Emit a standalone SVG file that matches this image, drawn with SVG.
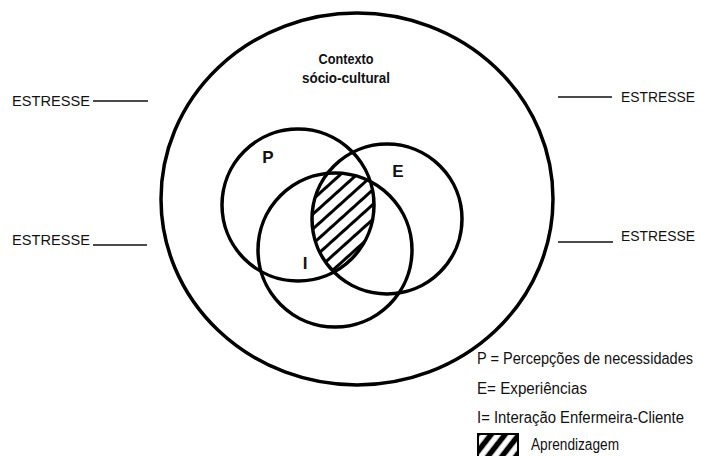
<svg xmlns="http://www.w3.org/2000/svg" width="702" height="456" viewBox="0 0 702 456">
  <style>
    .ring { fill: none; stroke: #000; stroke-width: 3.5; }
    .lbl { font-family: "Liberation Sans", Arial, sans-serif; font-size: 15.5px; fill: #111; }
    .leg { font-family: "Liberation Sans", Arial, sans-serif; font-size: 16px; fill: #111; }
    .bold { font-family: "Liberation Sans", Arial, sans-serif; font-weight: bold; fill: #111; }
    .tick { stroke: #111; stroke-width: 1.3; fill: none; }
  </style>
  <defs>
    <pattern id="hatch" patternUnits="userSpaceOnUse" width="11" height="11" patternTransform="rotate(-42)">
      <line x1="0" y1="5.5" x2="11" y2="5.5" stroke="#000" stroke-width="3"/>
    </pattern>
    <pattern id="hatchBox" patternUnits="userSpaceOnUse" width="11" height="11" patternTransform="rotate(-52)">
      <line x1="0" y1="5.5" x2="11" y2="5.5" stroke="#000" stroke-width="5.5"/>
    </pattern>
    <clipPath id="cP"><circle cx="298" cy="205" r="76"/></clipPath>
    <clipPath id="cE"><circle cx="387" cy="219" r="75"/></clipPath>
    <clipPath id="cI"><circle cx="335" cy="250" r="77"/></clipPath>
  </defs>
  <rect width="702" height="456" fill="#fff"/>

  <g id="context">
    <ellipse class="ring" cx="357" cy="199" rx="196" ry="186" stroke-width="4"/>
    <text class="bold" x="346" y="64" font-size="15.5" text-anchor="middle" textLength="55" lengthAdjust="spacingAndGlyphs">Contexto</text>
    <text class="bold" x="346" y="83" font-size="15.5" text-anchor="middle" textLength="88" lengthAdjust="spacingAndGlyphs">sócio-cultural</text>
  </g>

  <g id="learning">
    <g clip-path="url(#cP)">
      <g clip-path="url(#cE)">
        <rect x="250" y="140" width="180" height="200" fill="url(#hatch)" clip-path="url(#cI)"/>
      </g>
    </g>
  </g>

  <g id="P">
    <circle class="ring" cx="298" cy="205" r="76"/>
    <text class="bold" x="268" y="163" font-size="17" text-anchor="middle">P</text>
  </g>
  <g id="E">
    <circle class="ring" cx="387" cy="219" r="75"/>
    <text class="bold" x="398" y="177" font-size="17" text-anchor="middle">E</text>
  </g>
  <g id="I">
    <circle class="ring" cx="335" cy="250" r="77"/>
    <text class="bold" x="305" y="269" font-size="17" text-anchor="middle">I</text>
  </g>

  <g id="connectors">
    <line class="tick" x1="93" y1="101" x2="148" y2="101"/>
    <line class="tick" x1="93" y1="245" x2="147" y2="245"/>
    <line class="tick" x1="558" y1="97" x2="612" y2="97"/>
    <line class="tick" x1="558" y1="242" x2="613" y2="242"/>
  </g>

  <g id="stress-left-top"><text class="lbl" x="12" y="106" textLength="78" lengthAdjust="spacingAndGlyphs">ESTRESSE</text></g>
  <g id="stress-left-bottom"><text class="lbl" x="12" y="245" textLength="78" lengthAdjust="spacingAndGlyphs">ESTRESSE</text></g>
  <g id="stress-right-top"><text class="lbl" x="621" y="102" font-size="14px" textLength="74" lengthAdjust="spacingAndGlyphs">ESTRESSE</text></g>
  <g id="stress-right-bottom"><text class="lbl" x="621" y="241" font-size="14px" textLength="74" lengthAdjust="spacingAndGlyphs">ESTRESSE</text></g>

  <g id="legend">
    <text class="leg" x="477" y="364" font-size="14.5px" textLength="216" lengthAdjust="spacingAndGlyphs">P = Percepções de necessidades</text>
    <text class="leg" x="477" y="394" textLength="110" lengthAdjust="spacingAndGlyphs">E= Experiências</text>
    <text class="leg" x="477" y="423" textLength="207" lengthAdjust="spacingAndGlyphs">I= Interação Enfermeira-Cliente</text>
    <rect x="478" y="434" width="40" height="24" fill="url(#hatchBox)" stroke="#000" stroke-width="2"/>
    <text class="leg" x="531" y="450" textLength="88" lengthAdjust="spacingAndGlyphs">Aprendizagem</text>
  </g>
</svg>
